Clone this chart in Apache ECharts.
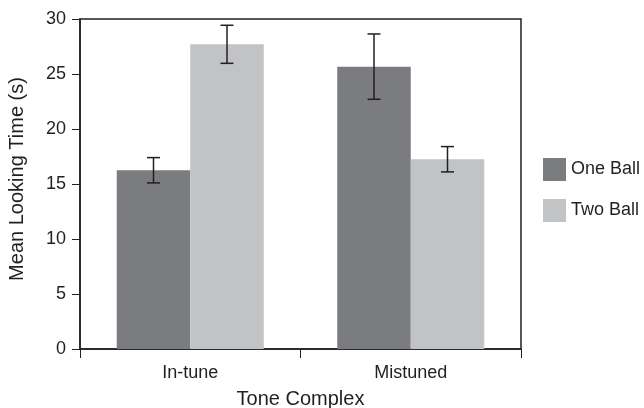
<!DOCTYPE html>
<html><head><meta charset="utf-8">
<script src="https://cdn.jsdelivr.net/npm/echarts@6/dist/echarts.min.js"></script>
<style>html,body{margin:0;padding:0;background:#fff}#c{width:644px;height:408px}</style>
</head><body><div id="c"></div>
<script>
const categories = ['In-tune', 'Mistuned'];
const seriesNames = ['One Ball', 'Two Ball'];
const oneBall = [16.25, 25.67];
const twoBall = [27.7, 17.25];
const oneBallErr = [1.15, 2.97];
const twoBallErr = [1.73, 1.15];
const yTicks = [0, 5, 10, 15, 20, 25, 30];

const colors = ['#7b7c80', '#c2c3c5'];
const dark = '#231f20';
const font = '"Liberation Sans", Arial, sans-serif';

function errSeries(vals, errs, idx) {
  return {
    type: 'custom',
    z: 10,
    data: vals.map((v, i) => [i, v, errs[i]]),
    renderItem: function (params, api) {
      const ci = api.value(0), v = api.value(1), e = api.value(2);
      const bw = api.size([1, 0])[0];
      const off = (idx === 0 ? -1 : 1) * bw / 6;
      const hi = api.coord([ci, v + e]);
      const lo = api.coord([ci, v - e]);
      const x = hi[0] + off;
      const cap = 6.5;
      const st = { stroke: dark, lineWidth: 1.5 };
      return { type: 'group', children: [
        { type: 'line', shape: { x1: x, y1: hi[1], x2: x, y2: lo[1] }, style: st },
        { type: 'line', shape: { x1: x - cap, y1: hi[1], x2: x + cap, y2: hi[1] }, style: st },
        { type: 'line', shape: { x1: x - cap, y1: lo[1], x2: x + cap, y2: lo[1] }, style: st }
      ]};
    }
  };
}

const chart = echarts.init(document.getElementById('c'));
chart.setOption({
  animation: false,
  textStyle: { fontFamily: font },
  grid: { left: 80, right: 123, top: 19, bottom: 59, outerBoundsMode: 'none', containLabel: false,
    show: true, borderColor: dark, borderWidth: 1.5, backgroundColor: 'transparent' },
  legend: {
    orient: 'vertical', left: 543, top: 158, padding: 0,
    itemWidth: 23, itemHeight: 23, itemGap: 18,
    icon: 'rect',
    data: seriesNames,
    textStyle: { fontFamily: font, fontSize: 18, color: dark }
  },
  xAxis: {
    type: 'category', data: categories,
    name: 'Tone Complex', nameLocation: 'middle', nameGap: 40,
    nameTextStyle: { fontFamily: font, fontSize: 20, color: dark },
    axisLine: { lineStyle: { color: dark, width: 1.5 } },
    axisTick: { show: true, length: 9, lineStyle: { color: dark, width: 1 } },
    axisLabel: { fontFamily: font, fontSize: 18, color: dark, margin: 15 }
  },
  yAxis: {
    type: 'value', min: 0, max: 30, interval: 5,
    name: 'Mean Looking Time (s)', nameLocation: 'middle', nameGap: 53,
    nameTextStyle: { fontFamily: font, fontSize: 20, color: dark, padding: [0, 0, 0, 10] },
    axisLine: { show: true, lineStyle: { color: dark, width: 1.5 } },
    axisTick: { show: true, length: 8, lineStyle: { color: dark, width: 1 } },
    axisLabel: { fontFamily: font, fontSize: 18, color: dark, margin: 14,
      formatter: v => yTicks.includes(v) ? String(v) : '' },
    splitLine: { show: false }
  },
  series: [
    { name: seriesNames[0], type: 'bar', data: oneBall, barGap: '0%', barCategoryGap: '33.33%', itemStyle: { color: colors[0] } },
    { name: seriesNames[1], type: 'bar', data: twoBall, barGap: '0%', barCategoryGap: '33.33%', itemStyle: { color: colors[1] } },
    errSeries(oneBall, oneBallErr, 0),
    errSeries(twoBall, twoBallErr, 1)
  ]
});
</script></body></html>
